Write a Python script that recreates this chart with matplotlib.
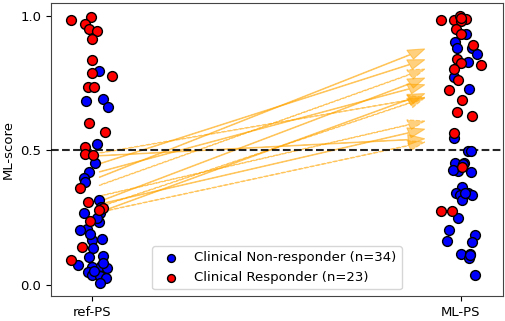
import numpy as np
from matplotlib import pyplot as plt

# ref-PS scores (x jitter)
ref_resp = [0.983, 0.995, 0.970, 0.950, 0.945, 0.915, 0.834, 0.789, 0.776, 0.734, 0.736, 0.602,
            0.570, 0.514, 0.486, 0.484, 0.362, 0.310, 0.285, 0.239, 0.142, 0.093, 0.280]
ref_resp_jit = [-0.057, -0.003, -0.019, -0.009, 0.013, 0.0, 0.0, 0.0, 0.054, -0.012, 0.006, -0.009,
                0.034, -0.018, -0.018, 0.002, -0.032, -0.011, 0.029, -0.005, -0.026, -0.056, 0.020]
ref_non = [0.796, 0.685, 0.690, 0.660, 0.523, 0.452, 0.420, 0.398, 0.384, 0.315, 0.289, 0.266,
           0.266, 0.209, 0.204, 0.232, 0.167, 0.172, 0.136, 0.108, 0.104, 0.073, 0.066, 0.071,
           0.063, 0.047, 0.036, 0.035, 0.026, 0.006, 0.050, 0.250, 0.190, 0.080]
ref_non_jit = [0.019, -0.016, 0.031, 0.043, 0.014, 0.008, -0.009, -0.022, -0.019, 0.020, 0.024, -0.021,
               0.021, -0.013, -0.033, 0.019, -0.001, 0.026, 0.003, 0.031, -0.009, -0.039, 0.0, 0.025,
               0.040, -0.012, 0.001, 0.022, 0.037, 0.021, 0.005, 0.015, -0.005, 0.030]

# ML-PS scores
ml_resp = [0.985, 0.985, 0.998, 0.988, 0.988, 0.981, 0.950, 0.931, 0.893, 0.841, 0.824, 0.817,
           0.802, 0.762, 0.724, 0.689, 0.644, 0.629, 0.565, 0.440, 0.276, 0.275, 0.990]
ml_resp_jit = [-0.055, -0.018, -0.003, 0.006, 0.014, -0.001, -0.012, -0.001, 0.033, -0.010, -0.001, 0.055,
               -0.018, -0.008, -0.032, 0.003, -0.010, 0.029, -0.018, 0.003, -0.055, -0.025, 0.0]
ml_non = [0.933, 0.901, 0.879, 0.879, 0.859, 0.829, 0.772, 0.729, 0.545, 0.499, 0.497, 0.452,
          0.452, 0.425, 0.428, 0.420, 0.365, 0.341, 0.336, 0.341, 0.335, 0.315, 0.249, 0.204,
          0.185, 0.162, 0.160, 0.115, 0.115, 0.099, 0.037, 0.450, 0.340, 0.110]
ml_non_jit = [0.014, -0.016, -0.010, 0.029, 0.044, 0.020, -0.018, 0.022, -0.020, 0.019, 0.026, -0.015,
              0.008, -0.008, -0.022, 0.026, 0.003, -0.012, -0.003, 0.018, 0.031, 0.004, -0.007, -0.033,
              0.038, -0.039, 0.031, -0.001, 0.024, 0.022, 0.037, 0.005, 0.010, 0.025]

# patients crossing the 0.5 threshold (ref-PS -> ML-PS)
arrow_start = [0.40, 0.45, 0.37, 0.31, 0.42, 0.29, 0.27, 0.49, 0.33, 0.30, 0.48, 0.27]
arrow_end = [0.93, 0.88, 0.85, 0.82, 0.78, 0.74, 0.76, 0.72, 0.64, 0.61, 0.55, 0.56]
arrow_dashed = [False, False, True, False, False, True, False, True, True, False, False, True]

fig = plt.figure(figsize=(5.05, 3.21), dpi=100)
ax = fig.add_axes([0.101, 0.078, 0.895, 0.913])

for y0, y1, d in zip(arrow_start, arrow_end, arrow_dashed):
    x0, x1 = 0.02, 1.0
    ax.arrow(x0, y0, 0.9 * (x1 - x0), 0.9 * (y1 - y0), width=0.002, head_width=0.038,
             head_length=0.045, length_includes_head=True, color='orange', alpha=0.5,
             lw=0.8, ls='--' if d else '-', zorder=2)

ax.axhline(0.5, color='k', ls='--', lw=1.5, alpha=0.85, zorder=3)

ax.scatter(np.array(ref_non_jit), ref_non, s=50, c='blue', edgecolors='k', lw=1, zorder=4,
           label='Clinical Non-responder (n=34)')
ax.scatter(1 + np.array(ml_non_jit), ml_non, s=50, c='blue', edgecolors='k', lw=1, zorder=4)
ax.scatter(np.array(ref_resp_jit), ref_resp, s=50, c='red', edgecolors='k', lw=1, zorder=5,
           label='Clinical Responder (n=23)')
ax.scatter(1 + np.array(ml_resp_jit), ml_resp, s=50, c='red', edgecolors='k', lw=1, zorder=5)

for sp in ax.spines.values():
    sp.set_color('#444444')

ax.set_xlim(-0.111, 1.114)
ax.set_ylim(-0.041, 1.048)
ax.set_xticks([0, 1])
ax.set_xticklabels(['ref-PS', 'ML-PS'], fontsize=9.5)
ax.set_yticks([0.0, 0.5, 1.0])
ax.tick_params(labelsize=9.5)
ax.set_ylabel('ML-score', fontsize=9.5)
ax.legend(loc='lower center', fontsize=9.5, markerscale=0.8)

fig.savefig('out.png', dpi=100)
